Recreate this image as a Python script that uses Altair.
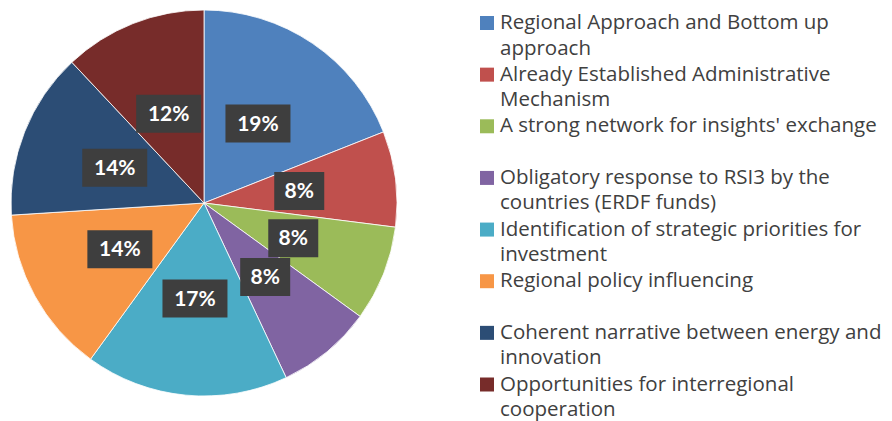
import altair as alt
import pandas as pd

categories = [
    "Regional Approach and Bottom up\napproach",
    "Already Established Administrative\nMechanism",
    "A strong network for insights' exchange",
    "Obligatory response to RSI3 by the\ncountries (ERDF funds)",
    "Identification of strategic priorities for\ninvestment",
    "Regional policy influencing",
    "Coherent narrative between energy and\ninnovation",
    "Opportunities for interregional\ncooperation",
]
values = [19, 8, 8, 8, 17, 14, 14, 12]
colors = ["#4F81BD", "#C0504D", "#9BBB59", "#8064A2", "#4BACC6", "#F79646", "#2C4D75", "#772C2A"]

df = pd.DataFrame({"category": categories, "value": values, "idx": list(range(len(categories)))})

color_scale = alt.Scale(domain=categories, range=colors)
R = 193
LR = 96

base = alt.Chart(df)

arc = base.mark_arc(radius=R, stroke="white", strokeWidth=0.8).encode(
    theta=alt.Theta("value:Q", stack=True),
    color=alt.Color("category:N", scale=color_scale, legend=None),
    order=alt.Order("idx:Q"),
)

lab = (
    base.transform_joinaggregate(total="sum(value)")
    .transform_window(cum="sum(value)", sort=[alt.SortField("idx")], frame=[None, 0])
    .transform_calculate(
        mid="(datum.cum - datum.value/2) / datum.total * 2 * PI",
        lx=f"{LR} * sin(datum.mid)",
        ly=f"{LR} * cos(datum.mid)",
        hw="datum.value >= 10 ? 32.5 : 25",
        bx1="datum.lx - datum.hw",
        bx2="datum.lx + datum.hw",
        by1="datum.ly - 19",
        by2="datum.ly + 19",
        txt="datum.value + '%'",
    )
)

xs = alt.Scale(domain=[-196, 196], zero=False, nice=False)
ys = alt.Scale(domain=[-193, 193], zero=False, nice=False)

boxes = lab.mark_rect(color="#3e3e3e").encode(
    x=alt.X("bx1:Q", scale=xs, axis=None),
    x2="bx2:Q",
    y=alt.Y("by1:Q", scale=ys, axis=None),
    y2="by2:Q",
)

texts = lab.mark_text(
    color="white", fontWeight="bold", fontSize=21, font="Lato",
    align="center", baseline="middle", dy=1,
).encode(
    x=alt.X("lx:Q", scale=xs, axis=None),
    y=alt.Y("ly:Q", scale=ys, axis=None),
    text="txt:N",
)

pie = alt.layer(arc, boxes, texts).properties(width=392, height=386)

ly_scale = alt.Scale(domain=[0, 7], range=[13, 374.5], zero=False, nice=False)

sw = base.mark_square(size=196, opacity=1).encode(
    x=alt.value(17),
    y=alt.Y("idx:Q", scale=ly_scale, axis=None),
    color=alt.Color("category:N", scale=color_scale, legend=None),
)

lt = base.mark_text(
    align="left", baseline="alphabetic", font="Open Sans", fontSize=20.5,
    color="#404040", lineBreak="\n", lineHeight=25.5, dy=6,
).encode(
    x=alt.value(30),
    y=alt.Y("idx:Q", scale=ly_scale, axis=None),
    text="category:N",
)

legend = alt.layer(sw, lt).properties(width=400, height=400)

chart = (
    alt.hconcat(pie, legend, spacing=70)
    .properties(padding=0)
    .configure_view(stroke=None)
)

chart.save("out.html", embed_options={"renderer": "svg", "actions": False})
